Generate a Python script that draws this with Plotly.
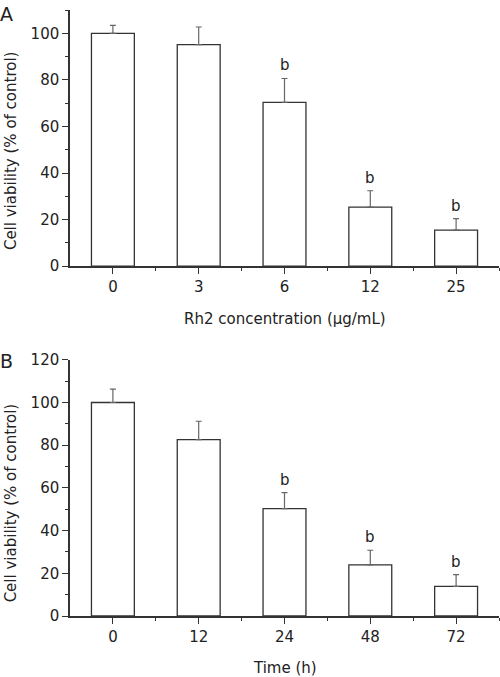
import plotly.graph_objects as go
from plotly.subplots import make_subplots

conc_labels = ["0", "3", "6", "12", "25"]
conc_mean = [100, 95.1, 70.3, 25.4, 15.5]
conc_err = [3.4, 7.6, 10.3, 7.0, 4.9]
conc_sig = ["", "", "b", "b", "b"]

time_labels = ["0", "12", "24", "48", "72"]
time_mean = [100, 82.6, 50.3, 23.9, 13.9]
time_err = [6.3, 8.6, 7.5, 6.9, 5.5]
time_sig = ["", "", "b", "b", "b"]

FONT = "DejaVu Sans"
TXT = "#222222"
LINE = "#333333"

fig = make_subplots(rows=2, cols=1, vertical_spacing=0.1544)

def add_panel(row, labels, mean, err, sig):
    xs = list(range(len(labels)))
    fig.add_trace(go.Bar(
        x=xs, y=mean, width=0.5,
        marker=dict(color="white", line=dict(color=LINE, width=1.3)),
        error_y=dict(type="data", array=err, arrayminus=[0] * len(err),
                     symmetric=False, color="#666666", thickness=1.2, width=3),
        showlegend=False, hoverinfo="skip"), row=row, col=1)
    xref = "x" if row == 1 else "x2"
    yref = "y" if row == 1 else "y2"
    for i, s in enumerate(sig):
        if s:
            fig.add_annotation(x=xs[i], y=mean[i] + err[i], xref=xref, yref=yref,
                               text=s, showarrow=False, yanchor="bottom", yshift=2,
                               font=dict(family=FONT, size=15, color=TXT))

add_panel(1, conc_labels, conc_mean, conc_err, conc_sig)
add_panel(2, time_labels, time_mean, time_err, time_sig)

for row, labels, ymax in [(1, conc_labels, 110), (2, time_labels, 120)]:
    fig.update_xaxes(row=row, col=1, range=[-0.5, 4.5],
                     tickvals=list(range(len(labels))), ticktext=labels,
                     ticks="outside", ticklen=6, tickwidth=1.3, tickcolor=LINE,
                     minor=dict(tickvals=[0.5, 1.5, 2.5, 3.5, 4.5], ticks="outside",
                                ticklen=3, tickwidth=1.3, tickcolor=LINE),
                     showline=True, linecolor=LINE, linewidth=1.5,
                     showgrid=False, zeroline=False,
                     tickfont=dict(family=FONT, size=15, color=TXT))
    fig.update_yaxes(row=row, col=1, range=[0, ymax], dtick=20, tick0=0,
                     ticks="outside", ticklen=6, tickwidth=1.3, tickcolor=LINE,
                     minor=dict(dtick=10, ticks="outside", ticklen=3,
                                tickwidth=1.3, tickcolor=LINE),
                     showline=True, linecolor=LINE, linewidth=1.5,
                     showgrid=False, zeroline=False,
                     tickfont=dict(family=FONT, size=15, color=TXT))

def ann(text, x, y, size=15, angle=0):
    fig.add_annotation(text=text, x=x, y=y, xref="paper", yref="paper",
                       showarrow=False, textangle=angle,
                       xanchor="center", yanchor="middle",
                       font=dict(family=FONT, size=size, color=TXT))

ann("Cell viability (% of control)", -0.138, 0.7685, angle=-90)
ann("Cell viability (% of control)", -0.138, 0.1872, angle=-90)
ann("Rh2 concentration (μg/mL)", 0.5, 0.4893)
ann("Time (h)", 0.5, -0.0854)
ann("A", -0.148, 0.9934, size=19)
ann("B", -0.148, 0.4204, size=19)

fig.update_layout(width=500, height=677,
                  margin=dict(l=70, r=1, t=7, b=61),
                  paper_bgcolor="white", plot_bgcolor="white",
                  bargap=0.5)

fig.write_html("out.html",
               config={"displayModeBar": False},
               post_script="document.body.style.margin='0px';document.body.style.overflow='hidden';")
